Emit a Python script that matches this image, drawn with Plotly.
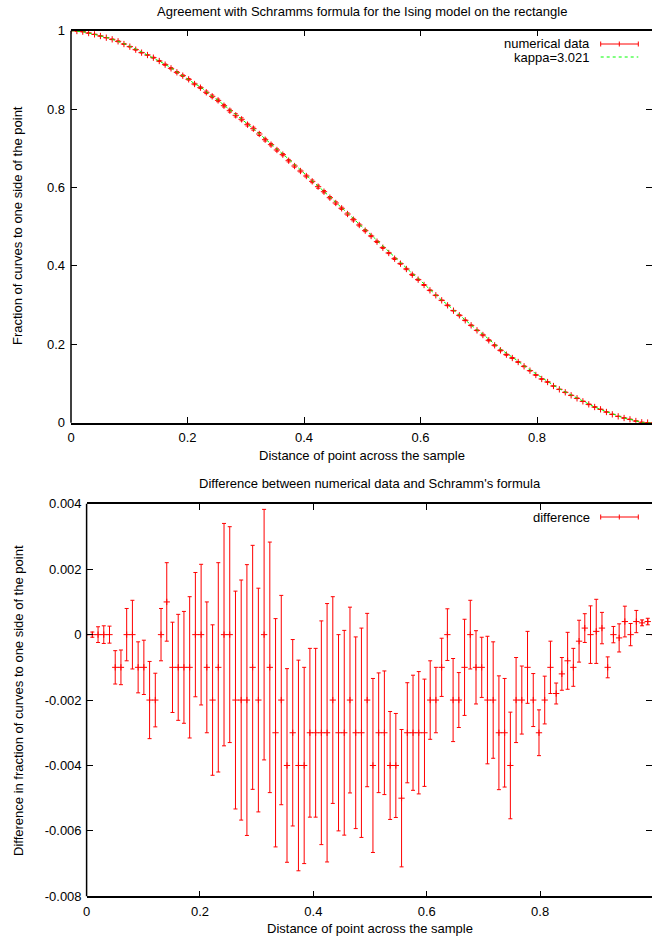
import plotly.graph_objects as go

W, H = 652, 939
FONT = "Liberation Sans, Arial, sans-serif"

# ---------------- data ----------------
distance = [
    0.0, 0.0101, 0.0202, 0.0303, 0.0404, 0.0505, 0.0606, 0.0707, 0.0808, 0.0909,
    0.1010, 0.1111, 0.1212, 0.1313, 0.1414, 0.1515, 0.1616, 0.1717, 0.1818, 0.1919,
    0.2020, 0.2121, 0.2222, 0.2323, 0.2424, 0.2525, 0.2626, 0.2727, 0.2828, 0.2929,
    0.3030, 0.3131, 0.3232, 0.3333, 0.3434, 0.3535, 0.3636, 0.3737, 0.3838, 0.3939,
    0.4040, 0.4141, 0.4242, 0.4343, 0.4444, 0.4545, 0.4646, 0.4747, 0.4848, 0.4949,
    0.5051, 0.5152, 0.5253, 0.5354, 0.5455, 0.5556, 0.5657, 0.5758, 0.5859, 0.5960,
    0.6061, 0.6162, 0.6263, 0.6364, 0.6465, 0.6566, 0.6667, 0.6768, 0.6869, 0.6970,
    0.7071, 0.7172, 0.7273, 0.7374, 0.7475, 0.7576, 0.7677, 0.7778, 0.7879, 0.7980,
    0.8081, 0.8182, 0.8283, 0.8384, 0.8485, 0.8586, 0.8687, 0.8788, 0.8889, 0.8990,
    0.9091, 0.9192, 0.9293, 0.9394, 0.9495, 0.9596, 0.9697, 0.9798, 0.9899, 1.0,
]

fraction_data = [
    1.0, 0.9992, 0.9975, 0.994, 0.9907, 0.9865, 0.9822, 0.978, 0.9729, 0.966,
    0.9593, 0.9516, 0.944, 0.938, 0.9312, 0.9227, 0.9134, 0.904, 0.8938, 0.8853,
    0.876, 0.864, 0.8547, 0.8428, 0.8326, 0.8222, 0.8087, 0.796, 0.7841, 0.7739,
    0.7603, 0.7501, 0.7365, 0.722, 0.7093, 0.6957, 0.6838, 0.6684, 0.6548, 0.6421,
    0.6293, 0.6157, 0.6021, 0.5893, 0.574, 0.5605, 0.5469, 0.5324, 0.518, 0.5043,
    0.4899, 0.4763, 0.4618, 0.4464, 0.4329, 0.4184, 0.4057, 0.3921, 0.3776, 0.3649,
    0.3513, 0.3377, 0.325, 0.3122, 0.2994, 0.2858, 0.2739, 0.2612, 0.2484, 0.2356,
    0.2237, 0.2101, 0.1974, 0.1846, 0.1736, 0.165, 0.1548, 0.1438, 0.1327, 0.1217,
    0.1115, 0.1038, 0.0936, 0.0851, 0.0775, 0.0698, 0.0622, 0.0545, 0.0468, 0.04,
    0.0341, 0.0273, 0.0213, 0.0162, 0.012, 0.0086, 0.0043, 0.001, 0.0003, 0.0,
]

difference = [
    0.0, 0.0, 0.0, 0.0, 0.0, -0.001, -0.001, 0.0, 0.0, -0.001,
    -0.001, -0.002, -0.002, 0.0, 0.001, -0.001, -0.001, -0.001, -0.001, 0.0,
    0.0, -0.001, -0.002, -0.001, 0.0, 0.0, -0.002, -0.002, -0.002, -0.001,
    -0.002, 0.0, -0.001, -0.003, -0.002, -0.004, -0.003, -0.004, -0.004, -0.003,
    -0.003, -0.003, -0.003, -0.002, -0.003, -0.003, -0.002, -0.003, -0.003, -0.002,
    -0.004, -0.003, -0.003, -0.004, -0.004, -0.005, -0.003, -0.003, -0.003, -0.003,
    -0.002, -0.002, -0.001, 0.0, -0.002, -0.002, -0.001, 0.0, -0.001, -0.001,
    -0.002, -0.002, -0.003, -0.003, -0.004, -0.002, -0.002, -0.001, -0.002, -0.003,
    -0.002, -0.001, -0.0018, -0.0012, -0.0008, -0.001, -0.0002, 0.0002, 0.0, 0.0001,
    0.0002, -0.001, 0.0, -0.0001, 0.0004, 0.0, 0.0004, 0.00036, 0.0004, 0.0,
]

diff_error = [
    0.0, 0.00008, 0.00024, 0.00027, 0.00026, 0.00051, 0.00053, 0.0008, 0.00105, 0.00078,
    0.00083, 0.00118, 0.00082, 0.0008, 0.0012, 0.00138, 0.00162, 0.00171, 0.00216, 0.0019,
    0.00215, 0.002, 0.0023, 0.0032, 0.0034, 0.0033, 0.00333, 0.00367, 0.00414, 0.00373,
    0.00342, 0.00383, 0.00383, 0.00349, 0.0032, 0.00296, 0.00285, 0.00322, 0.003, 0.00258,
    0.00258, 0.00342, 0.00395, 0.00316, 0.003, 0.00313, 0.00284, 0.00293, 0.0032, 0.00265,
    0.00266, 0.00183, 0.00189, 0.00165, 0.00159, 0.0021, 0.00153, 0.00176, 0.00187, 0.00164,
    0.0012, 0.001, 0.00089, 0.00079, 0.00127, 0.00084, 0.00147, 0.00105, 0.00112, 0.00092,
    0.00195, 0.00178, 0.00174, 0.00166, 0.00163, 0.0013, 0.00104, 0.0011, 0.00081, 0.0007,
    0.00073, 0.0008, 0.00032, 0.0005, 0.00087, 0.00058, 0.00064, 0.00044, 0.00088, 0.00098,
    0.00048, 0.00032, 0.00025, 0.00043, 0.00047, 0.00034, 0.00034, 0.00009, 0.0001, 0.0,
]

# Schramm curve (kappa = 3.021) = data minus the plotted difference
kappa_fit = [f - d for f, d in zip(fraction_data, difference)]

x_tickvals = [0, 0.2, 0.4, 0.6, 0.8, 1.0]
x_ticktext = ["0", "0.2", "0.4", "0.6", "0.8", "1"]
top_y_tickvals = [0, 0.2, 0.4, 0.6, 0.8, 1.0]
top_y_ticktext = ["0", "0.2", "0.4", "0.6", "0.8", "1"]
bot_y_tickvals = [-0.008, -0.006, -0.004, -0.002, 0, 0.002, 0.004]
bot_y_ticktext = ["-0.008", "-0.006", "-0.004", "-0.002", "0", "0.002", "0.004"]

# ---------------- layout geometry (pixels) ----------------
def px(x):
    return x / W


def py(y):
    return 1 - y / H


TOP_L, TOP_T, TOP_B = 71, 30.7, 422.7
BOT_L, BOT_T, BOT_B = 86.6, 503.8, 896.3
RED = "#ff0000"
GREEN = "#00ff00"

fig = go.Figure()

marker_style = dict(symbol="cross-thin", size=4.5, color=RED, line=dict(color=RED, width=1))
err_style = dict(type="data", visible=True, color=RED, thickness=1, width=2)

fig.add_trace(go.Scatter(
    x=distance, y=fraction_data, mode="markers", marker=marker_style,
    error_y=dict(err_style, array=diff_error), xaxis="x", yaxis="y",
    showlegend=False, name="numerical data"))
fig.add_trace(go.Scatter(
    x=distance, y=kappa_fit, mode="lines",
    line=dict(color=GREEN, width=1, dash="3px,3px"), xaxis="x", yaxis="y",
    showlegend=False, name="kappa=3.021"))
fig.add_trace(go.Scatter(
    x=distance, y=difference, mode="markers", marker=marker_style,
    error_y=dict(err_style, array=diff_error), xaxis="x2", yaxis="y2",
    showlegend=False, name="difference"))

axis_common = dict(
    ticks="inside", ticklen=6, tickwidth=1, tickcolor="black",
    showgrid=False, zeroline=False, linecolor="black", linewidth=1.5,
    tickfont=dict(family=FONT, size=13, color="black"), automargin=False,
)

fig.update_layout(
    width=W, height=H,
    margin=dict(l=0, r=0, t=0, b=0, pad=0),
    paper_bgcolor="white", plot_bgcolor="white",
    font=dict(family=FONT, size=13, color="black"),
    xaxis=dict(axis_common, domain=[px(TOP_L), 1.0],
               range=[0, (W - TOP_L) / 582.5], anchor="y",
               tickvals=x_tickvals, ticktext=x_ticktext,
               showline=True, mirror="ticks", ticklabelstandoff=2),
    yaxis=dict(axis_common, domain=[py(TOP_B), py(TOP_T)], range=[0, 1],
               anchor="x", tickvals=top_y_tickvals, ticktext=top_y_ticktext,
               showline=False, mirror="ticks", ticklabelstandoff=5),
    xaxis2=dict(axis_common, domain=[px(BOT_L), 1.0],
                range=[0, (W - BOT_L) / 566.9], anchor="y2",
                tickvals=x_tickvals, ticktext=x_ticktext,
                showline=True, mirror="ticks", ticklabelstandoff=2),
    yaxis2=dict(axis_common, domain=[py(BOT_B), py(BOT_T)],
                range=[-0.008, 0.004], anchor="x2",
                tickvals=bot_y_tickvals, ticktext=bot_y_ticktext,
                showline=False, mirror="ticks", ticklabelstandoff=4),
)

# left borders (right border falls just outside the picture)
shapes = [
    dict(type="line", xref="paper", yref="paper", x0=px(TOP_L), x1=px(TOP_L),
         y0=py(TOP_B), y1=py(TOP_T), line=dict(color="black", width=1.5)),
    dict(type="line", xref="paper", yref="paper", x0=px(BOT_L), x1=px(BOT_L),
         y0=py(BOT_B), y1=py(BOT_T), line=dict(color="black", width=1.5)),
]


def errbar_key(y):
    x0, x1, xm = 600.7, 638.3, 619.3
    out = [dict(type="line", xref="paper", yref="paper", x0=px(x0), x1=px(x1),
                y0=py(y), y1=py(y), line=dict(color=RED, width=1))]
    for xx in (x0, x1, xm):
        out.append(dict(type="line", xref="paper", yref="paper", x0=px(xx), x1=px(xx),
                        y0=py(y - 2.5), y1=py(y + 2.5), line=dict(color=RED, width=1)))
    return out


shapes += errbar_key(44)
shapes += errbar_key(517)
shapes.append(dict(type="line", xref="paper", yref="paper", x0=px(600.7), x1=px(638.3),
                   y0=py(57), y1=py(57), line=dict(color=GREEN, width=1, dash="3px,3px")))

texts = [
    ("Agreement with Schramms formula for the Ising model on the rectangle", 362, 12, "center", 0),
    ("Distance of point across the sample", 362, 455, "center", 0),
    ("Fraction of curves to one side of the point", 18, 226, "center", -90),
    ("numerical data", 592, 43.5, "right", 0),
    ("kappa=3.021", 592, 57.5, "right", 0),
    ("Difference between numerical data and Schramm's formula", 370, 484, "center", 0),
    ("Distance of point across the sample", 370, 928, "center", 0),
    ("Difference in fraction of curves to one side of the point", 18, 701, "center", -90),
    ("difference", 592, 517, "right", 0),
]
annotations = [
    dict(text=t, x=px(x), y=py(y), xref="paper", yref="paper", xanchor=a,
         yanchor="middle", showarrow=False, textangle=ang,
         font=dict(family=FONT, size=13, color="black"))
    for t, x, y, a, ang in texts
]

fig.update_layout(shapes=shapes, annotations=annotations)
fig.write_html(
    "out.html",
    config={"displayModeBar": False},
    post_script="document.body.style.margin='0';document.body.style.overflow='hidden';",
)
